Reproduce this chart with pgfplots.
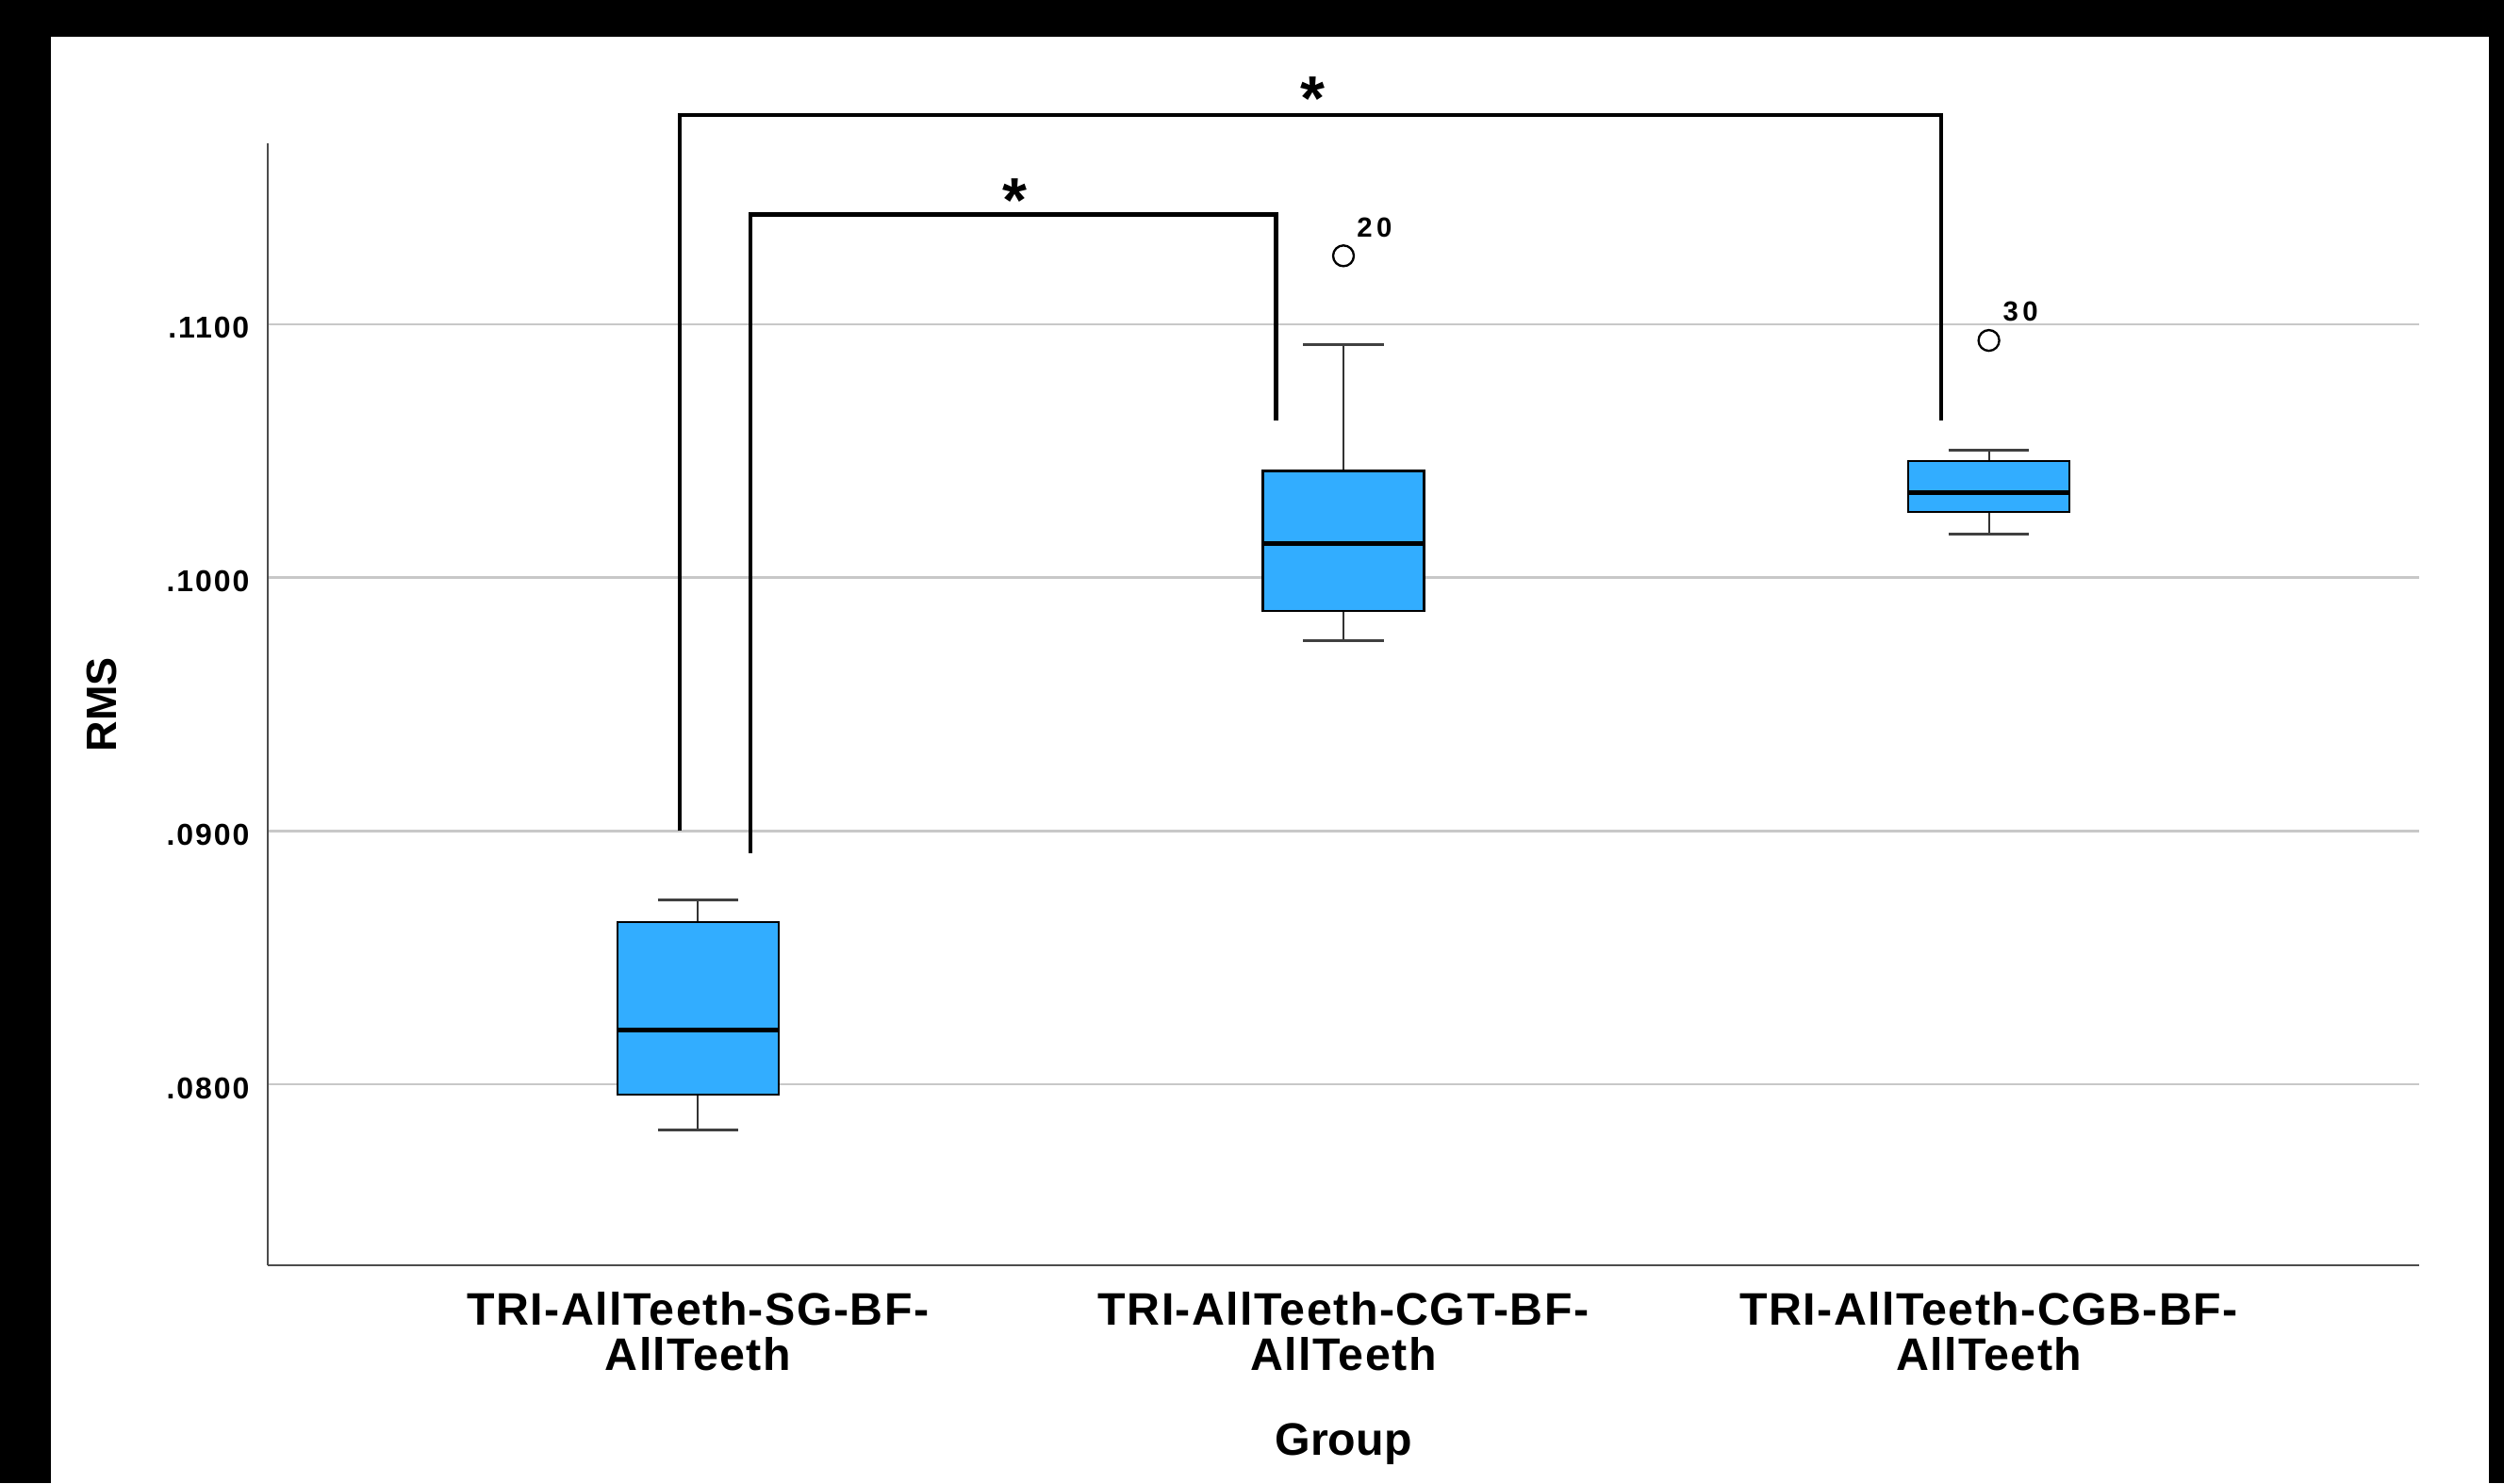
\documentclass[border=0pt]{standalone}
\usepackage{pgfplots}
\pgfplotsset{compat=1.18}
\usepackage{fontspec}
\setmainfont{Liberation Sans}
\newfontfamily\spacedfont[LetterSpace=6]{Liberation Sans}
\newfontfamily\catfont[LetterSpace=3]{Liberation Sans}
\newfontfamily\outfont[LetterSpace=15]{Liberation Sans}
\definecolor{boxblue}{RGB}{50,173,255}
\definecolor{gridgray}{RGB}{200,200,200}
\begin{document}
\begin{tikzpicture}
\fill[black] (-85.2pt,-69.3pt) rectangle (711.6pt,402.6pt);
\fill[white] (-69pt,-69.3pt) rectangle (706.8pt,390.9pt);
\begin{axis}[
  at={(0,0)}, anchor=south west,
  scale only axis, width=684.6pt, height=357pt,
  xmin=0.3333, xmax=3.6667, ymin=0.07286, ymax=0.11714,
  axis x line*=bottom, axis y line*=left,
  axis line style={draw=black!70, line width=0.6pt},
  xtick={1,2,3},
  xticklabels={TRI-AllTeeth-SG-BF-\\AllTeeth, TRI-AllTeeth-CGT-BF-\\AllTeeth, TRI-AllTeeth-CGB-BF-\\AllTeeth},
  xticklabel style={align=center, anchor=north, inner sep=0pt, yshift=-8.3pt, font=\fontsize{14.5}{14.3}\selectfont\catfont\bfseries},
  ytick={0.08,0.09,0.10,0.11},
  yticklabels={.0800,.0900,.1000,.1100},
  yticklabel style={anchor=east, inner sep=0pt, xshift=-5.7pt, yshift=-1.2pt, font=\fontsize{9.6}{11}\selectfont\spacedfont\bfseries},
  major tick length=0pt,
  ymajorgrids,
  major grid style={draw=gridgray, line width=0.8pt},
  ylabel={RMS},
  ylabel style={at={(axis description cs:-0.0771,0.5)}, anchor=center, font=\fontsize{13.5}{16}\selectfont\bfseries},
  xlabel={Group},
  xlabel style={at={(axis description cs:0.5,-0.1697)}, anchor=base, font=\fontsize{14.5}{17}\selectfont\bfseries},
  clip=false,
  whisk/.style={draw=black!80, line width=0.6pt},
  cap/.style={draw=black!75, line width=0.9pt},
  boxst/.style={draw=black, fill=boxblue, line width=0.7pt},
  med/.style={draw=black, line width=1.6pt},
]
% significance brackets
\addplot[black, line width=1.4pt, line join=miter] coordinates {(0.9715,0.0900) (0.9715,0.11826) (2.926,0.11826) (2.926,0.10621)};
\addplot[black, line width=1.4pt, line join=miter] coordinates {(1.081,0.08913) (1.081,0.11433) (1.896,0.11433) (1.896,0.10621)};

% group 1: lw 0.07821, q1 0.07960, med 0.08214, q3 0.08641, uw 0.08728
\addplot[whisk] coordinates {(1,0.07821) (1,0.08728)};
\addplot[cap] coordinates {(0.9375,0.07821) (1.0625,0.07821)};
\addplot[cap] coordinates {(0.9375,0.08728) (1.0625,0.08728)};
\addplot[boxst] coordinates {(0.875,0.07960) (1.125,0.07960) (1.125,0.08641) (0.875,0.08641)} --cycle;
\addplot[med] coordinates {(0.875,0.08214) (1.125,0.08214)};

% group 2: lw 0.09752, q1 0.09868, med 0.10135, q3 0.10421, uw 0.10919
\addplot[whisk] coordinates {(2,0.09752) (2,0.10919)};
\addplot[cap] coordinates {(1.9375,0.09752) (2.0625,0.09752)};
\addplot[cap] coordinates {(1.9375,0.10919) (2.0625,0.10919)};
\addplot[boxst] coordinates {(1.875,0.09868) (2.125,0.09868) (2.125,0.10421) (1.875,0.10421)} --cycle;
\addplot[med] coordinates {(1.875,0.10135) (2.125,0.10135)};

% group 3: lw 0.10170, q1 0.10260, med 0.10336, q3 0.10461, uw 0.10501
\addplot[whisk] coordinates {(3,0.10170) (3,0.10501)};
\addplot[cap] coordinates {(2.9375,0.10170) (3.0625,0.10170)};
\addplot[cap] coordinates {(2.9375,0.10501) (3.0625,0.10501)};
\addplot[boxst] coordinates {(2.875,0.10260) (3.125,0.10260) (3.125,0.10461) (2.875,0.10461)} --cycle;
\addplot[med] coordinates {(2.875,0.10336) (3.125,0.10336)};

% outliers
\addplot[only marks, mark=o, mark size=3.3pt, mark options={draw=black, line width=0.7pt}] coordinates {(2,0.1127) (3,0.10936)};

\node[anchor=base, inner sep=0pt, font=\fontsize{20}{24}\selectfont\bfseries] at (axis cs:1.953,0.11806) {*};
\node[anchor=base, inner sep=0pt, font=\fontsize{20}{24}\selectfont\bfseries] at (axis cs:1.4915,0.11402) {*};
\node[inner sep=0pt, font=\fontsize{8.8}{10}\selectfont\outfont\bfseries] at (axis cs:2.048,0.1138) {20};
\node[inner sep=0pt, font=\fontsize{8.8}{10}\selectfont\outfont\bfseries] at (axis cs:3.049,0.1105) {30};
\end{axis}
\pgfresetboundingbox
\useasboundingbox (-85.2pt,-69.3pt) rectangle (711.6pt,402.6pt);
\end{tikzpicture}
\end{document}
